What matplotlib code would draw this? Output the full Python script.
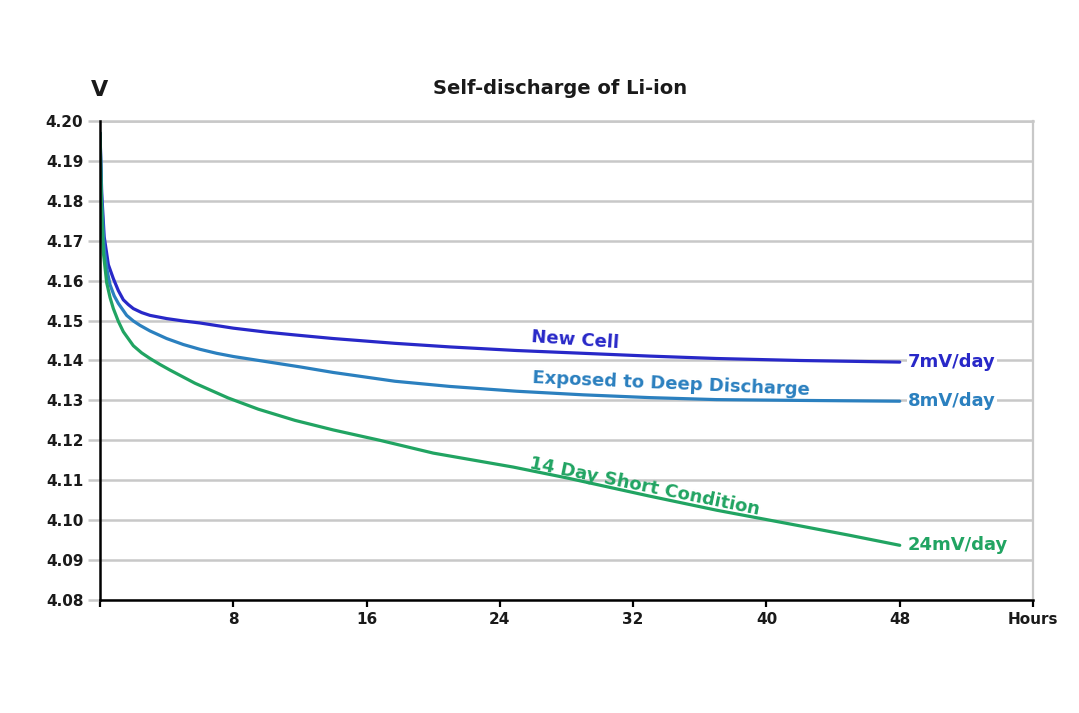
import numpy as np
import matplotlib
matplotlib.use("Agg")
import matplotlib.pyplot as plt

# hours / volts
new_cell_h = [0, 0.1, 0.25, 0.5, 0.8, 1.1, 1.4, 1.7, 2.0, 2.5, 3.0, 4.0, 5.0, 6.0, 8, 10, 11.7,
              14, 17.7, 21, 25, 29, 33, 37, 42, 48]
new_cell_v = [4.197, 4.182, 4.171, 4.164, 4.1605, 4.1575, 4.1552, 4.154, 4.153, 4.152, 4.1513,
              4.1505, 4.1499, 4.1494, 4.1481, 4.1471, 4.1464, 4.1455, 4.1443, 4.1434, 4.1425,
              4.1418, 4.1411, 4.1405, 4.1400, 4.1396]

deep_h = [0, 0.1, 0.25, 0.45, 0.6, 0.85, 1.1, 1.6, 2.0, 2.4, 3.0, 4.0, 5.0, 6.0, 7.0, 8, 10, 12,
          14, 17.7, 21, 25, 29, 33, 37, 42, 48]
deep_v = [4.197, 4.180, 4.168, 4.162, 4.159, 4.1562, 4.1543, 4.1513, 4.1499, 4.1488, 4.1474,
          4.1455, 4.1440, 4.1428, 4.1418, 4.1410, 4.1397, 4.1384, 4.1370, 4.1348, 4.1335,
          4.1323, 4.1314, 4.1307, 4.1302, 4.1300, 4.1298]

short_h = [0, 0.08, 0.2, 0.4, 0.6, 0.8, 1.1, 1.4, 2.0, 2.5, 3.0, 3.6, 4.2, 5.7, 7.7, 9.5, 11.7,
           14, 16.8, 20, 24.8, 28, 32.9, 37, 42.1, 45, 48]
short_v = [4.197, 4.180, 4.167, 4.1595, 4.1558, 4.1530, 4.1498, 4.1472, 4.1437, 4.1419, 4.1405,
           4.1390, 4.1376, 4.1343, 4.1306, 4.1278, 4.1250, 4.1226, 4.1200, 4.1168, 4.1133,
           4.1106, 4.1061, 4.1025, 4.0985, 4.0962, 4.0937]

x_ticks = [0, 8, 16, 24, 32, 40, 48, 56]
x_labels = ["", "8", "16", "24", "32", "40", "48", "Hours"]
y_ticks = [4.08, 4.09, 4.10, 4.11, 4.12, 4.13, 4.14, 4.15, 4.16, 4.17, 4.18, 4.19, 4.20]

c_new = "#2828c8"
c_deep = "#2b80bf"
c_short = "#21a462"
grid_c = "#c8c8c8"

fig = plt.figure(figsize=(10.79, 7.13), dpi=100)
ax = fig.add_axes([0.0927, 0.1585, 0.8647, 0.6718])

ax.plot(new_cell_h, new_cell_v, color=c_new, lw=2.3, solid_capstyle="round",
        solid_joinstyle="round", zorder=3)
ax.plot(deep_h, deep_v, color=c_deep, lw=2.3, solid_capstyle="round",
        solid_joinstyle="round", zorder=3)
ax.plot(short_h, short_v, color=c_short, lw=2.3, solid_capstyle="round",
        solid_joinstyle="round", zorder=3)

ax.set_xlim(0, 56)
ax.set_ylim(4.08, 4.20)
ax.set_yticks(y_ticks)
ax.set_yticklabels([f"{v:.2f}" for v in y_ticks])
ax.set_xticks(x_ticks)
ax.set_xticklabels(x_labels)

ax.grid(axis="y", color=grid_c, lw=1.8, zorder=0)
ax.tick_params(axis="y", length=9, width=1.8, color=grid_c, pad=3, labelsize=11)
ax.tick_params(axis="x", length=5, width=1.6, color="black", pad=4, labelsize=11)
for lab in ax.get_xticklabels() + ax.get_yticklabels():
    lab.set_fontweight("bold")
    lab.set_color("#1a1a1a")
ax.yaxis.get_major_ticks()[0].tick1line.set_color("black")

for s in ["left", "bottom"]:
    ax.spines[s].set_linewidth(1.8)
    ax.spines[s].set_color("black")
ax.spines["right"].set_color(grid_c)
ax.spines["right"].set_linewidth(1.6)
ax.spines["top"].set_color(grid_c)
ax.spines["top"].set_linewidth(1.8)
ax.spines["left"].set_zorder(4)

# curve labels
ax.text(28.5, 4.1450, "New Cell", color=c_new, fontsize=13, fontweight="bold",
        rotation=-4, ha="center", va="center", rotation_mode="anchor")
ax.text(34.3, 4.1341, "Exposed to Deep Discharge", color=c_deep, fontsize=13, fontweight="bold",
        rotation=-2.5, ha="center", va="center", rotation_mode="anchor")
ax.text(32.7, 4.1083, "14 Day Short Condition", color=c_short, fontsize=13, fontweight="bold",
        rotation=-11.5, ha="center", va="center", rotation_mode="anchor")

# end rate labels
ax.text(48.5, new_cell_v[-1], "7mV/day", color=c_new, fontsize=13, fontweight="bold",
        ha="left", va="center", bbox=dict(facecolor="white", edgecolor="none", pad=1))
ax.text(48.5, deep_v[-1], "8mV/day", color=c_deep, fontsize=13, fontweight="bold",
        ha="left", va="center", bbox=dict(facecolor="white", edgecolor="none", pad=1))
ax.text(48.5, short_v[-1], "24mV/day", color=c_short, fontsize=13, fontweight="bold",
        ha="left", va="center", bbox=dict(facecolor="white", edgecolor="none", pad=1))

fig.text(560 / 1079, 1 - 88 / 713, "Self-discharge of Li-ion", fontsize=14, fontweight="bold",
         ha="center", va="center", color="#1a1a1a")
fig.text(100 / 1079, 1 - 90 / 713, "V", fontsize=16, fontweight="bold",
         ha="center", va="center", color="#1a1a1a")

fig.savefig("out.png", dpi=100, facecolor="white")
